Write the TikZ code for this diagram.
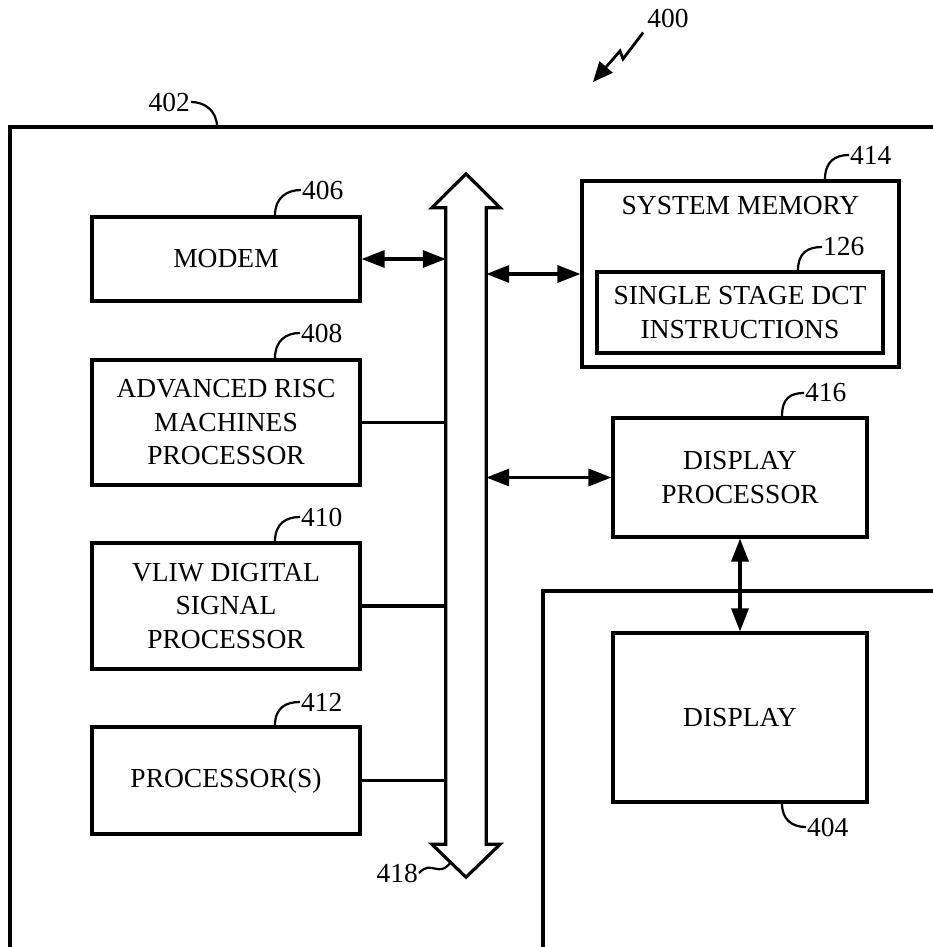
\documentclass[tikz,border=0pt]{standalone}
\usepackage{fontspec}
\setmainfont{Liberation Serif}
\usetikzlibrary{calc,positioning,arrows.meta}

\begin{document}
\begin{tikzpicture}[x=1pt, y=-1pt,
  blk/.style={draw, line width=3.1pt, align=center, inner sep=0pt, font=\fontsize{27.5}{33.5}\selectfont},
  num/.style={inner sep=1pt, font=\fontsize{27.5}{33.5}\selectfont},
  lead/.style={line width=2.2pt},
  wire/.style={line width=3.2pt},
  dbl/.style={line width=3.2pt, {Triangle[length=23pt,width=17pt]}-{Triangle[length=23pt,width=17pt]}}]
  \useasboundingbox (0,0) rectangle (933,947);

  % outer frames
  \draw[wire] (933,127) -- (10,127) -- (10,947);
  \draw[wire] (933,591) -- (543,591) -- (543,947);
  \coordinate (f402) at (217,127);

  % left column
  \node[blk, minimum width=268pt, minimum height=84pt] (modem) at (226,259) {MODEM};
  \node[blk, minimum width=268pt, minimum height=125pt] (arm) at (226,422.5) {ADVANCED RISC\\MACHINES\\PROCESSOR};
  \node[blk, minimum width=268pt, minimum height=126pt] (vliw) at (226,606) {VLIW DIGITAL\\SIGNAL\\PROCESSOR};
  \node[blk, minimum width=268pt, minimum height=107pt] (proc) at (226,780.5) {PROCESSOR(S)};

  % right column
  \node[blk, minimum width=317pt, minimum height=186pt,
        label={[num, anchor=north, yshift=-16pt]north:SYSTEM MEMORY}] (sysmem) at (740.5,274) {};
  \node[blk, minimum width=286pt, minimum height=81pt] (dct) at (740,312.5) {SINGLE STAGE DCT\\INSTRUCTIONS};
  \node[blk, minimum width=254pt, minimum height=119pt] (dproc) at (740,477.5) {DISPLAY\\PROCESSOR};
  \node[blk, minimum width=254pt, minimum height=169pt] (disp) at (740,717.5) {DISPLAY};

  % bus
  \node[minimum width=40pt, minimum height=636pt, inner sep=0pt] (bus) at (466,526) {};
  \draw[wire, line join=miter] (bus.south west) -- (bus.north west) -- ++(-14,0)
    -- ($(bus.north)+(0,-34)$) -- ($(bus.north east)+(14,0)$) -- (bus.north east)
    -- (bus.south east) -- ++(14,0) -- ($(bus.south)+(0,33)$)
    -- ($(bus.south west)+(-14,0)$) -- cycle;
  \coordinate (c418) at (451,862);

  % connectors
  \draw[dbl] (modem.east) -- (modem.east -| bus.west);
  \draw[wire] (arm.east) -- (arm.east -| bus.west);
  \draw[wire] (vliw.east) -- (vliw.east -| bus.west);
  \draw[wire] (proc.east) -- (proc.east -| bus.west);
  \draw[dbl] (sysmem.west -| bus.east) -- (sysmem.west);
  \draw[dbl] (dproc.west -| bus.east) -- (dproc.west);
  \draw[dbl] (dproc.south) -- (disp.north);

  % reference numbers
  \node[num] (l400) at (668,18) {400};
  \draw[line width=2.8pt, line join=miter, -{Triangle[length=20pt,width=17pt]}]
    ([shift={(-3,4)}]l400.south west) -- (623,59) -- (620,51) -- (593,82);
  \node[num, anchor=east] (l402) at (191,102) {402};
  \draw[lead] (l402.east) .. controls +(14,0) and +(0,-16) .. (f402);
  \node[num, anchor=west] (l406) at (301,190) {406};
  \draw[lead] ([xshift=49pt]modem.north) .. controls +(0,-18) and +(-14,0) .. (l406.west);
  \node[num, anchor=west] (l408) at (300,333) {408};
  \draw[lead] ([xshift=49pt]arm.north) .. controls +(0,-18) and +(-14,0) .. (l408.west);
  \node[num, anchor=west] (l410) at (300,517) {410};
  \draw[lead] ([xshift=49pt]vliw.north) .. controls +(0,-18) and +(-14,0) .. (l410.west);
  \node[num, anchor=west] (l412) at (300,702) {412};
  \draw[lead] ([xshift=49pt]proc.north) .. controls +(0,-18) and +(-14,0) .. (l412.west);
  \node[num, anchor=west] (l414) at (849,155) {414};
  \draw[lead] ([xshift=84.5pt]sysmem.north) .. controls +(0,-18) and +(-14,0) .. (l414.west);
  \node[num, anchor=west] (l126) at (822,247) {126};
  \draw[lead] ([xshift=58pt]dct.north) .. controls +(0,-18) and +(-14,0) .. (l126.west);
  \node[num, anchor=west] (l416) at (804,393) {416};
  \draw[lead] ([xshift=42pt]dproc.north) .. controls +(0,-18) and +(-14,0) .. (l416.west);
  \node[num, anchor=west] (l404) at (806,827) {404};
  \draw[lead] ([xshift=42pt]disp.south) .. controls +(0,16) and +(-14,0) .. (l404.west);
  \node[num, anchor=east] (l418) at (419,873) {418};
  \draw[lead] (l418.east) .. controls (432,859) and (438,879) .. (c418);
\end{tikzpicture}
\end{document}
